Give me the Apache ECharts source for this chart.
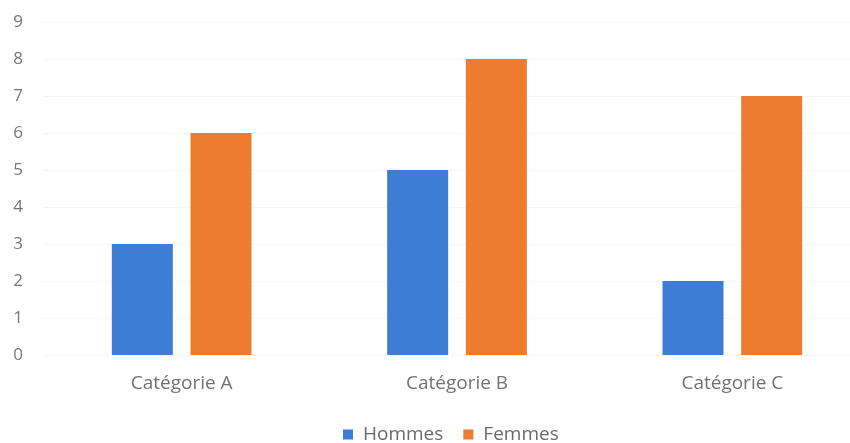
<!DOCTYPE html>
<html><head><meta charset="utf-8">
<script src="https://cdn.jsdelivr.net/npm/echarts@6/dist/echarts.min.js"></script>
<style>html,body{margin:0;padding:0;background:#fff}#c{width:850px;height:443px}</style>
</head><body><div id="c"></div>
<script>
const categories = ['Catégorie A', 'Catégorie B', 'Catégorie C'];
const hommes = [3, 5, 2];
const femmes = [6, 8, 7];
const seriesNames = ['Hommes', 'Femmes'];
const chart = echarts.init(document.getElementById('c'));
const font = '"Open Sans", sans-serif';
chart.setOption({
  animation: false,
  textStyle: { fontFamily: font },
  grid: { left: 44, right: -20, top: 22, bottom: 88, containLabel: false, outerBoundsMode: 'none' },
  legend: {
    data: seriesNames, top: 425, left: 343, padding: 0,
    itemWidth: 10, itemHeight: 10, itemGap: 20, icon: 'rect',
    textStyle: { color: '#6a6a6a', fontSize: 19, fontFamily: font, padding: [0, 0, 0, 5] }
  },
  xAxis: {
    type: 'category', data: categories,
    axisLine: { show: false }, axisTick: { show: false },
    axisLabel: { color: '#727272', fontSize: 19, margin: 19, fontFamily: font }
  },
  yAxis: {
    type: 'value', min: 0, max: 9, interval: 1,
    axisLine: { show: false }, axisTick: { show: false },
    splitLine: { lineStyle: { color: '#f6f6f6' } },
    axisLabel: { color: '#777777', fontSize: 17, margin: 21, fontFamily: font }
  },
  series: [
    { name: seriesNames[0], type: 'bar', data: hommes, barWidth: 61, barGap: '29%', itemStyle: { color: '#3d7dd6' } },
    { name: seriesNames[1], type: 'bar', data: femmes, barWidth: 61, itemStyle: { color: '#ee7b30' } }
  ]
});
</script></body></html>
